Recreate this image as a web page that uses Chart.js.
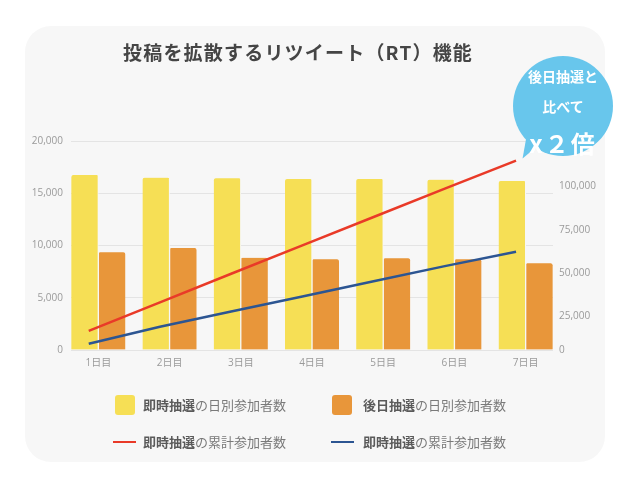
<!DOCTYPE html>
<html lang="ja">
<head>
<meta charset="utf-8">
<script src="https://cdn.jsdelivr.net/npm/chart.js@4.4.1/dist/chart.umd.min.js"></script>
<style>
  html, body { margin: 0; padding: 0; background: #fff; }
  body { width: 640px; height: 478px; position: relative; overflow: hidden;
         font-family: 'Noto Sans CJK JP', 'Noto Sans', sans-serif; }
  .card { position: absolute; left: 25px; top: 26px; width: 580px; height: 436px;
          background: #f7f7f7; border-radius: 26px; }
  #myChart1 { position: absolute; left: 0; top: 0; }
  .title { position: absolute; left: 123px; top: 38px; font-size: 19px; font-weight: 700;
           color: #454545; white-space: nowrap; letter-spacing: 1.2px; }
  .legend { position: absolute; left: 0; top: 0; }
  .item { position: absolute; height: 20px; line-height: 20px; font-size: 13px; color: #7a7a7a; white-space: nowrap; }
  .item b { color: #5a5a5a; font-weight: 700; }
  .box { position: absolute; left: 0; top: 0; width: 20px; height: 20px; border-radius: 3px; }
  .dash { position: absolute; left: 0; top: 9px; width: 23px; height: 2px; }
  .bubble { position: absolute; left: 513px; top: 56px; width: 100px; height: 100px;
            border-radius: 50%; background: #68c6ec; color: #fff; text-align: center; }
  .tail { position: absolute; left: 528px; top: 128px; width: 0; height: 0;
          border-left: 8px solid transparent; border-right: 14px solid transparent;
          border-top: 30px solid #68c6ec; transform: rotate(25deg); transform-origin: 0 0; }
  .bubble .l1 { position: absolute; left: 0; right: 0; top: 10px; font-size: 14px; font-weight: 700; }
  .bubble .l2 { position: absolute; left: 0; right: 0; top: 40px; font-size: 14px; font-weight: 700; }
  .bubble .l3 { position: absolute; left: 0; right: 0; top: 69px; font-size: 24px; font-weight: 700; letter-spacing: 2px; }
</style>
</head>
<body>
<div class="card"></div>
<canvas id="myChart1" width="640" height="478"></canvas>
<div class="title">投稿を拡散するリツイート（RT）機能</div>
<div class="legend" id="legend"></div>
<div class="tail"></div>
<div class="bubble">
  <div class="l1">後日抽選と</div>
  <div class="l2">比べて</div>
  <div class="l3">x２倍</div>
</div>
<script>
const days = ['1日目', '2日目', '3日目', '4日目', '5日目', '6日目', '7日目'];
const instantDaily = [16750, 16490, 16430, 16360, 16360, 16300, 16170];
const laterDaily = [9350, 9760, 8830, 8680, 8770, 8680, 8290];
const instantTotal = [16750, 33240, 49670, 66030, 82390, 98690, 114860];
const laterTotal = [9350, 19110, 27940, 36620, 45390, 54070, 62360];
const leftTicks = [0, 5000, 10000, 15000, 20000];
const rightTicks = [0, 25000, 50000, 75000, 100000];

const labels = ['即時抽選の日別参加者数', '後日抽選の日別参加者数', '即時抽選の累計参加者数', '即時抽選の累計参加者数'];
const colors = ['#f6df55', '#e8963a', '#e93a28', '#2c5592'];

const tickFont = { family: "'Open Sans', 'Noto Sans CJK JP', sans-serif", size: 10 };
// right axis does not start at zero in the source, its first label still reads 0
const rightMin = 5760;
const rightMax = 126170;

function points(values) {
  return values.map((v, i) => ({ x: i, y: v }));
}

const data = {
  datasets: [
    {
      type: 'line', label: labels[2], data: points(instantTotal), xAxisID: 'x2', yAxisID: 'y2',
      borderColor: colors[2], backgroundColor: colors[2], borderWidth: 2.5, pointRadius: 0, order: 0
    },
    {
      type: 'line', label: labels[3], data: points(laterTotal), xAxisID: 'x2', yAxisID: 'y2',
      borderColor: colors[3], backgroundColor: colors[3], borderWidth: 2.5, pointRadius: 0, order: 0
    },
    {
      type: 'bar', label: labels[0], data: points(instantDaily), xAxisID: 'x', yAxisID: 'y',
      backgroundColor: colors[0], borderRadius: 2, borderSkipped: 'bottom', order: 1,
      barThickness: 27, borderColor: '#f7f7f7', borderWidth: { left: 0, right: 1, top: 0, bottom: 0 }
    },
    {
      type: 'bar', label: labels[1], data: points(laterDaily), xAxisID: 'x', yAxisID: 'y',
      backgroundColor: colors[1], borderRadius: 2, borderSkipped: 'bottom', order: 1,
      barThickness: 27, borderColor: '#f7f7f7', borderWidth: { left: 1, right: 0, top: 0, bottom: 0 }
    }
  ]
};

const config = {
  type: 'bar',
  data: data,
  options: {
    responsive: false,
    animation: false,
    layout: { padding: { top: 141, left: 0, right: 0, bottom: 0 } },
    plugins: { legend: { display: false }, tooltip: { enabled: false } },
    scales: {
      x: {
        type: 'linear', min: -0.384, max: 6.384, offset: false,
        afterBuildTicks: (axis) => { axis.ticks = days.map((d, i) => ({ value: i })); },
        afterFit: (axis) => { axis.height = 128; },
        grid: { display: false, drawTicks: false, offset: false },
        border: { display: false },
        ticks: { color: '#9a9a9a', font: tickFont, padding: 7, autoSkip: false, maxRotation: 0,
                 callback: (v) => days[v] }
      },
      x2: { type: 'linear', min: -0.249, max: 6.519, offset: false, display: false, grid: { offset: false } },
      y: {
        position: 'left', min: 0, max: 20000,
        afterBuildTicks: (axis) => { axis.ticks = leftTicks.map(v => ({ value: v })); },
        afterFit: (axis) => { axis.width = 71; },
        grid: { color: '#e4e4e4', drawTicks: false, lineWidth: 1 },
        border: { display: false },
        ticks: { color: '#9a9a9a', font: tickFont, padding: 8,
                 callback: (v) => v.toLocaleString('en-US') }
      },
      y2: {
        position: 'right', min: rightMin, max: rightMax,
        afterBuildTicks: (axis) => {
          axis.ticks = rightTicks.map(v => ({ value: v === 0 ? rightMin : v }));
        },
        afterFit: (axis) => { axis.width = 87; },
        grid: { display: false, drawTicks: false },
        border: { display: false },
        ticks: { color: '#9a9a9a', font: tickFont, padding: 6,
                 callback: (v) => (v === rightMin ? 0 : v).toLocaleString('en-US') }
      }
    }
  }
};

const chart_ = new Chart(document.getElementById('myChart1').getContext('2d'), config);

// legend built from the chart's datasets
const slots = [
  { left: 115, top: 395, text: 143 },
  { left: 332, top: 395, text: 363 },
  { left: 113, top: 432, text: 143 },
  { left: 331, top: 432, text: 363 }
];
const byLabel = [2, 3, 0, 1];
const legend = document.getElementById('legend');
slots.forEach((s, i) => {
  const ds = chart_.data.datasets[byLabel[i]];
  const item = document.createElement('div');
  item.className = 'item';
  item.style.left = s.left + 'px';
  item.style.top = s.top + 'px';
  const mark = document.createElement('div');
  mark.className = ds.type === 'bar' ? 'box' : 'dash';
  mark.style.background = ds.type === 'bar' ? ds.backgroundColor : ds.borderColor;
  item.appendChild(mark);
  const txt = document.createElement('span');
  txt.style.position = 'absolute';
  txt.style.left = (s.text - s.left) + 'px';
  txt.innerHTML = '<b>' + ds.label.slice(0, 4) + '</b>' + ds.label.slice(4);
  item.appendChild(txt);
  legend.appendChild(item);
});
</script>
</body>
</html>
